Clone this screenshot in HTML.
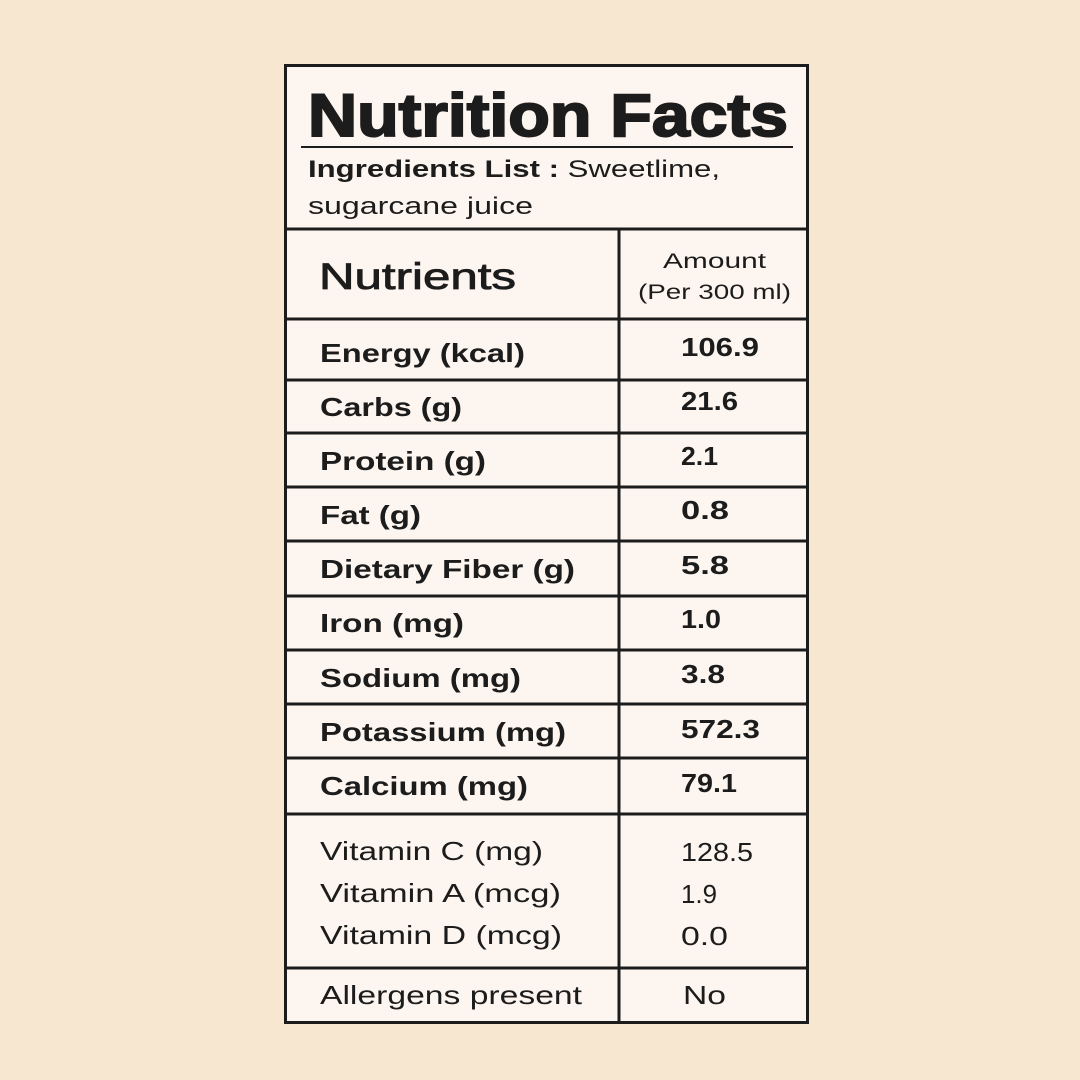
<!DOCTYPE html>
<html><head><style>html,body{margin:0;padding:0;background:#f7e6d0}</style></head><body>
<svg width="1080" height="1080" xmlns="http://www.w3.org/2000/svg" style="display:block;font-family:'Liberation Sans',sans-serif;fill:#1c1c1c">
<rect width="1080" height="1080" fill="#f7e6d0"/>
<rect x="285.5" y="65.5" width="522" height="957" fill="#fdf6f0" stroke="#1c1c1c" stroke-width="3"/>
<line x1="301" y1="147" x2="793" y2="147" stroke="#1c1c1c" stroke-width="2"/>
<g stroke="#1c1c1c" stroke-width="3">
<line x1="285" y1="229" x2="808" y2="229"/>
<line x1="619" y1="229" x2="619" y2="1023"/>
<line x1="285" y1="319" x2="808" y2="319"/>
<line x1="285" y1="380" x2="808" y2="380"/>
<line x1="285" y1="433" x2="808" y2="433"/>
<line x1="285" y1="487" x2="808" y2="487"/>
<line x1="285" y1="541" x2="808" y2="541"/>
<line x1="285" y1="596" x2="808" y2="596"/>
<line x1="285" y1="650" x2="808" y2="650"/>
<line x1="285" y1="704" x2="808" y2="704"/>
<line x1="285" y1="758" x2="808" y2="758"/>
<line x1="285" y1="814" x2="808" y2="814"/>
<line x1="285" y1="968" x2="808" y2="968"/>
</g>
<text x="308" y="136" font-size="60" font-weight="bold" stroke="#1c1c1c" stroke-width="2" textLength="480" lengthAdjust="spacingAndGlyphs">Nutrition Facts</text>
<text x="308" y="177" font-size="24" textLength="412" lengthAdjust="spacingAndGlyphs"><tspan font-weight="bold">Ingredients List :</tspan> Sweetlime,</text>
<text x="308" y="214" font-size="24" textLength="225" lengthAdjust="spacingAndGlyphs">sugarcane juice</text>
<text x="319" y="289" font-size="37" stroke="#1c1c1c" stroke-width="0.8" textLength="197" lengthAdjust="spacingAndGlyphs">Nutrients</text>
<text x="663" y="268" font-size="21" textLength="103" lengthAdjust="spacingAndGlyphs">Amount</text>
<text x="638" y="299" font-size="21" textLength="153" lengthAdjust="spacingAndGlyphs">(Per 300 ml)</text>
<g font-size="26" font-weight="bold" lengthAdjust="spacingAndGlyphs">
<text x="320" y="362" textLength="205" lengthAdjust="spacingAndGlyphs">Energy (kcal)</text><text x="681" y="356" textLength="78" lengthAdjust="spacingAndGlyphs">106.9</text>
<text x="320" y="416" textLength="142" lengthAdjust="spacingAndGlyphs">Carbs (g)</text><text x="681" y="410" textLength="57" lengthAdjust="spacingAndGlyphs">21.6</text>
<text x="320" y="470" textLength="166" lengthAdjust="spacingAndGlyphs">Protein (g)</text><text x="681" y="465" textLength="37" lengthAdjust="spacingAndGlyphs">2.1</text>
<text x="320" y="524" textLength="101" lengthAdjust="spacingAndGlyphs">Fat (g)</text><text x="681" y="519" textLength="48" lengthAdjust="spacingAndGlyphs">0.8</text>
<text x="320" y="578" textLength="255" lengthAdjust="spacingAndGlyphs">Dietary Fiber (g)</text><text x="681" y="574" textLength="48" lengthAdjust="spacingAndGlyphs">5.8</text>
<text x="320" y="632" textLength="144" lengthAdjust="spacingAndGlyphs">Iron (mg)</text><text x="681" y="628" textLength="40" lengthAdjust="spacingAndGlyphs">1.0</text>
<text x="320" y="687" textLength="201" lengthAdjust="spacingAndGlyphs">Sodium (mg)</text><text x="681" y="683" textLength="44" lengthAdjust="spacingAndGlyphs">3.8</text>
<text x="320" y="741" textLength="246" lengthAdjust="spacingAndGlyphs">Potassium (mg)</text><text x="681" y="738" textLength="79" lengthAdjust="spacingAndGlyphs">572.3</text>
<text x="320" y="795" textLength="208" lengthAdjust="spacingAndGlyphs">Calcium (mg)</text><text x="681" y="792" textLength="56" lengthAdjust="spacingAndGlyphs">79.1</text>
</g>
<g font-size="26">
<text x="320" y="860" textLength="223" lengthAdjust="spacingAndGlyphs">Vitamin C (mg)</text><text x="681" y="861" textLength="72" lengthAdjust="spacingAndGlyphs">128.5</text>
<text x="320" y="902" textLength="241" lengthAdjust="spacingAndGlyphs">Vitamin A (mcg)</text><text x="681" y="903" textLength="36" lengthAdjust="spacingAndGlyphs">1.9</text>
<text x="320" y="944" textLength="242" lengthAdjust="spacingAndGlyphs">Vitamin D (mcg)</text><text x="681" y="945" textLength="47" lengthAdjust="spacingAndGlyphs">0.0</text>
<text x="320" y="1004" textLength="262" lengthAdjust="spacingAndGlyphs">Allergens present</text><text x="683" y="1004" textLength="43" lengthAdjust="spacingAndGlyphs">No</text>
</g>
</svg>
</body></html>
